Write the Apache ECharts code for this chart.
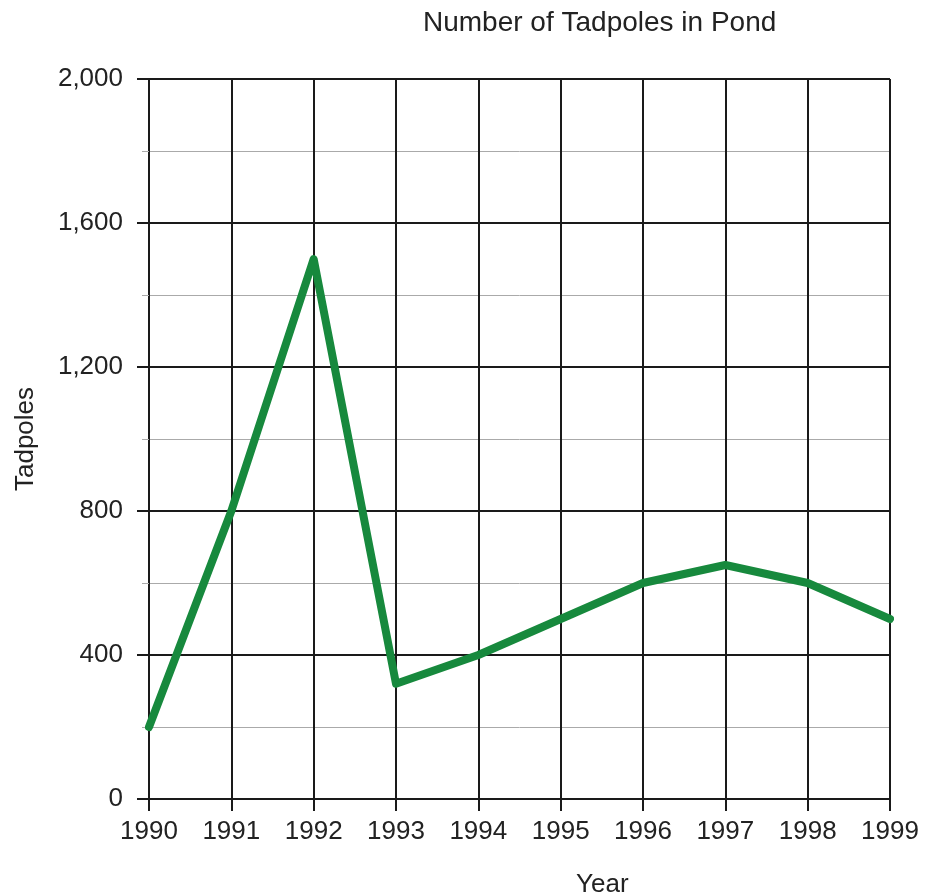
<!DOCTYPE html>
<html>
<head>
<meta charset="utf-8">
<script src="https://cdn.jsdelivr.net/npm/echarts@6/dist/echarts.min.js"></script>
<style>
html,body{margin:0;padding:0;background:#fff;}
#c{width:925px;height:894px;}
</style>
</head>
<body>
<div id="c"></div>
<script>
const years = ['1990','1991','1992','1993','1994','1995','1996','1997','1998','1999'];
const tadpoles = [200, 800, 1500, 320, 400, 500, 600, 650, 600, 500];
const titleText = 'Number of Tadpoles in Pond';
const xName = 'Year';
const yName = 'Tadpoles';

const font = 'Liberation Sans, Arial, sans-serif';
const chart = echarts.init(document.getElementById('c'), null, {renderer:'canvas'});
chart.setOption({
  animation: false,
  backgroundColor: '#fff',
  title: [
    {text: titleText, left: 418, top: 4, textStyle:{fontFamily:font, fontSize:28, fontWeight:'normal', color:'#222'}},
    {text: xName, left: 571, top: 867, textStyle:{fontFamily:font, fontSize:26, fontWeight:'normal', color:'#222'}}
  ],
  grid: {left:149, right:35, top:79, bottom:95, containLabel:false, outerBoundsMode:'none'},
  xAxis: {
    type:'category', data: years, boundaryGap:false,
    axisLine:{show:true, lineStyle:{color:'#1a1a1a', width:2}},
    axisTick:{show:true, length:12, lineStyle:{color:'#1a1a1a', width:2}},
    axisLabel:{fontFamily:font, fontSize:26, color:'#222', margin:20},
    splitLine:{show:true, lineStyle:{color:'#1a1a1a', width:2}}
  },
  yAxis: {
    type:'value', min:0, max:2000, interval:400,
    name: yName, nameLocation:'middle', nameGap:110,
    nameTextStyle:{fontFamily:font, fontSize:26, color:'#222'},
    axisLine:{show:true, lineStyle:{color:'#1a1a1a', width:2}},
    axisTick:{show:true, length:12, lineStyle:{color:'#1a1a1a', width:2}},
    minorTick:{show:true, splitNumber:2, length:7, lineStyle:{color:'#aaa', width:1}},
    axisLabel:{fontFamily:font, fontSize:26, color:'#222', margin:26,
      formatter: v => v.toLocaleString('en-US')},
    splitLine:{show:true, lineStyle:{color:'#1a1a1a', width:2}},
    minorSplitLine:{show:true, lineStyle:{color:'#aaa', width:1}}
  },
  series: [{
    type:'line', data: tadpoles, symbol:'none',
    lineStyle:{color:'#17893d', width:8, cap:'round', join:'round'},
    z: 5
  }]
});
</script>
</body>
</html>
